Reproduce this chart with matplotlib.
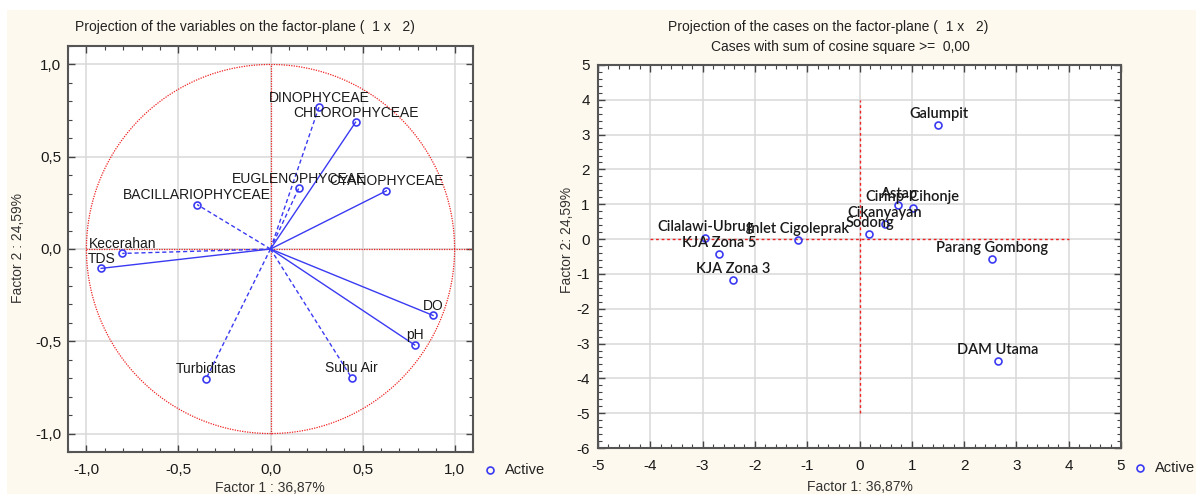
import numpy as np
import matplotlib
matplotlib.use("Agg")
import matplotlib.pyplot as plt
from matplotlib.patches import Rectangle
from matplotlib.lines import Line2D
from matplotlib.ticker import MultipleLocator, FuncFormatter

# --- variables on the factor plane (loadings) ---
var_names = ["DINOPHYCEAE", "CHLOROPHYCEAE", "EUGLENOPHYCEAE", "CYANOPHYCEAE",
             "BACILLARIOPHYCEAE", "Kecerahan", "TDS", "DO", "pH",
             "Turbiditas", "Suhu Air"]
var_f1 = [0.263, 0.462, 0.154, 0.629, -0.399, -0.805, -0.920, 0.883, 0.783, -0.350, 0.441]
var_f2 = [0.768, 0.687, 0.330, 0.315, 0.241, -0.024, -0.105, -0.360, -0.520, -0.703, -0.699]

# --- cases on the factor plane (scores) ---
case_names = ["Galumpit", "Astap", "Cirinp-Cihonje", "Cikanyayan", "Sodong",
              "Inlet Cigoleprak", "Cilalawi-Ubrug", "KJA Zona 5", "KJA Zona 3",
              "Parang Gombong", "DAM Utama"]
case_f1 = [1.51, 0.74, 1.02, 0.48, 0.19, -1.17, -2.95, -2.69, -2.41, 2.54, 2.65]
case_f2 = [3.29, 0.99, 0.89, 0.43, 0.14, -0.02, 0.03, -0.43, -1.17, -0.58, -3.51]

W, H = 1196, 494
BLUE = "#3a3af2"
RED = "#ee2222"
CREAM = "#fef9ee"
NARROW = ["Liberation Sans Narrow", "Liberation Sans", "DejaVu Sans"]

fig = plt.figure(figsize=(W / 100, H / 100), dpi=100, facecolor="white")
fig.patches.append(Rectangle((7 / W, 0), 1, 1 - 10 / H, transform=fig.transFigure,
                             facecolor=CREAM, edgecolor="none", zorder=-10))


def px(x, y):
    # image pixel -> figure fraction
    return x / W, 1 - y / H


def style_axes(ax, major, minor, fmt):
    ax.set_facecolor("white")
    ax.xaxis.set_major_locator(MultipleLocator(major))
    ax.yaxis.set_major_locator(MultipleLocator(major))
    ax.xaxis.set_minor_locator(MultipleLocator(minor))
    ax.yaxis.set_minor_locator(MultipleLocator(minor))
    ax.xaxis.set_major_formatter(FuncFormatter(fmt))
    ax.yaxis.set_major_formatter(FuncFormatter(fmt))
    ax.tick_params(which="both", direction="in", top=True, right=True,
                   color="#444444", labelcolor="#1a1a1a", labelsize=11)
    ax.tick_params(which="major", length=5, width=1)
    ax.tick_params(which="minor", length=3, width=0.8)
    for lab in ax.get_xticklabels() + ax.get_yticklabels():
        lab.set_family(NARROW)
    for sp in ax.spines.values():
        sp.set_color("#555555")
        sp.set_linewidth(1.5)
    ax.grid(which="major", color="#d8d8d8", lw=1.1, zorder=0)
    ax.set_axisbelow(True)


# ---------------- left: variables ----------------
ax1 = fig.add_axes([68 / W, 42 / H, 405 / W, 406 / H])
style_axes(ax1, 0.5, 0.1, lambda v, p: f"{v:.1f}".replace(".", ","))
ax1.tick_params(axis="x", pad=8)
ax1.tick_params(axis="y", pad=5)
ax1.set_xlim(-1.1, 1.1)
ax1.set_ylim(-1.1, 1.1)

theta = np.linspace(0, 2 * np.pi, 500)
ax1.plot(np.cos(theta), np.sin(theta), color=RED, ls=(0, (1, 1)), lw=0.9, zorder=2)
ax1.plot([-1, 1.1], [0, 0], color=RED, ls=(0, (1, 1)), lw=0.9, zorder=2)
ax1.plot([0, 0], [-1, 1], color=RED, ls=(0, (1, 1)), lw=0.9, zorder=2)

solid_vars = {"CHLOROPHYCEAE", "CYANOPHYCEAE", "TDS", "DO", "pH"}
for name, x, y in zip(var_names, var_f1, var_f2):
    ls = "-" if name in solid_vars else (0, (3, 2))
    ax1.plot([0, x], [0, y], color=BLUE, lw=1.0, ls=ls, zorder=3)
    ax1.plot(x, y, marker="o", ms=5, mfc="none", mec=BLUE, mew=1.2, zorder=4)
    ax1.annotate(name, (x, y), xytext=(0, 4), textcoords="offset points",
                 ha="center", va="baseline", fontsize=10, color="#1a1a1a",
                 family=["Liberation Sans", "DejaVu Sans"], zorder=5)

fig.text(*px(245, 27), "Projection of the variables on the factor-plane (  1 x   2)",
         ha="center", va="center", fontsize=10, family=NARROW, color="#222222")
fig.text(*px(270, 488), "Factor 1 : 36,87%", ha="center", va="center",
         fontsize=10, family=NARROW, color="#333333")
fig.text(*px(18, 248), "Factor 2 : 24,59%", ha="center", va="center", rotation=90,
         fontsize=10, family=NARROW, color="#333333")

# ---------------- right: cases ----------------
ax2 = fig.add_axes([598 / W, 46 / H, 523 / W, 383 / H])
style_axes(ax2, 1, 0.2, lambda v, p: f"{v:.0f}")
ax2.tick_params(axis="x", pad=8)
ax2.tick_params(axis="y", pad=6)
ax2.set_xlim(-5, 5)
ax2.set_ylim(-6, 5)

ax2.plot([-4, 4], [0, 0], color=RED, ls=(0, (2, 2)), lw=1.0, zorder=2)
ax2.plot([0, 0], [-5, 4], color=RED, ls=(0, (2, 2)), lw=1.0, zorder=2)
ax2.plot(case_f1, case_f2, ls="none", marker="o", ms=5, mfc="none",
         mec=BLUE, mew=1.2, zorder=4)
for name, x, y in zip(case_names, case_f1, case_f2):
    ax2.annotate(name, (x, y), xytext=(0, 5), textcoords="offset points",
                 ha="center", va="baseline", fontsize=10.5, color="#1a1a1a",
                 fontweight="semibold", family=["Lato", "DejaVu Sans"], zorder=5)

fig.text(*px(828, 27), "Projection of the cases on the factor-plane (  1 x   2)",
         ha="center", va="center", fontsize=10, family=NARROW, color="#222222")
fig.text(*px(840, 47), "Cases with sum of cosine square >=  0,00",
         ha="center", va="center", fontsize=10, family=NARROW, color="#222222")
fig.text(*px(860, 487), "Factor 1: 36,87%", ha="center", va="center",
         fontsize=10, family=NARROW, color="#333333")
fig.text(*px(567, 240), "Factor 2: 24,59%", ha="center", va="center", rotation=90,
         fontsize=10, family=NARROW, color="#333333")

# legends ("Active" markers)
for mx, my in [(490, 470), (1140, 468)]:
    fx, fy = px(mx, my)
    fig.add_artist(Line2D([fx], [fy], transform=fig.transFigure, marker="o", ms=5,
                          mfc="none", mec=BLUE, mew=1.2, ls="none"))
    fig.text(fx + 15 / W, fy, "Active", ha="left", va="center", fontsize=10.5,
             family=NARROW, color="#222222")

fig.savefig("out.png", dpi=100, facecolor=fig.get_facecolor())
